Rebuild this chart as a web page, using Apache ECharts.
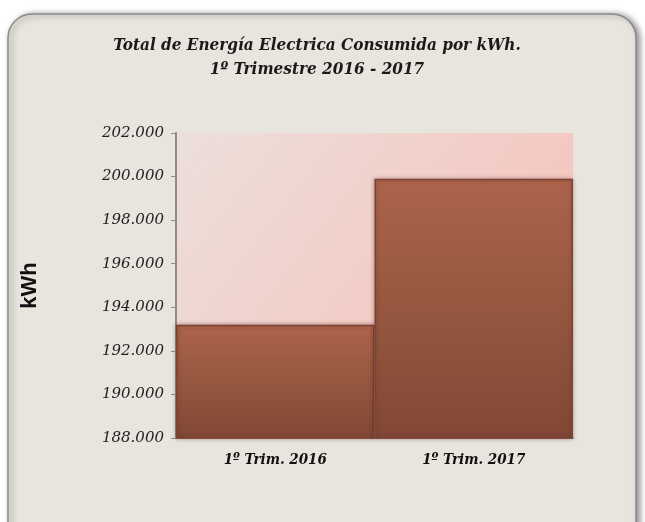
<!DOCTYPE html>
<html>
<head>
<meta charset="utf-8">
<script src="https://cdn.jsdelivr.net/npm/echarts@6/dist/echarts.min.js"></script>
<style>
  html, body { margin: 0; padding: 0; background: #ffffff; }
  #chart { width: 645px; height: 522px; }
</style>
</head>
<body>
<div id="chart"></div>
<script>
// datos
var categorias = ['1º Trim. 2016', '1º Trim. 2017'];
var consumoKwh = [193200, 199900];
var ejeMin = 188000;
var ejeMax = 202000;
var ejeIntervalo = 2000;

function miles(v) {
  // 202000 -> 202.000
  var s = String(Math.round(v));
  return s.replace(/\B(?=(\d{3})+(?!\d))/g, '.');
}

var myChart = echarts.init(document.getElementById('chart'));

var options = {
  animation: false,
  backgroundColor: '#ffffff',
  graphic: [
    {
      type: 'rect',
      z: -10,
      shape: { x: 8, y: 14, width: 628, height: 540, r: 24 },
      style: {
        fill: '#e8e4de',
        stroke: '#8a8a8a',
        lineWidth: 1.5,
        shadowBlur: 6,
        shadowOffsetX: 3,
        shadowOffsetY: 1,
        shadowColor: 'rgba(0,0,0,0.45)'
      }
    }
  ],
  title: {
    text: 'Total de Energía Electrica Consumida por kWh.\n1º Trimestre 2016 - 2017',
    left: 312,
    top: 29,
    textAlign: 'center',
    textStyle: {
      fontFamily: 'DejaVu Serif Condensed, DejaVu Serif',
      fontStyle: 'italic',
      fontWeight: 'bold',
      fontSize: 17,
      lineHeight: 24,
      color: '#1a1a1a'
    }
  },
  grid: {
    left: 176,
    right: 72,
    top: 133,
    bottom: 84,
    show: true,
    borderWidth: 0,
    backgroundColor: new echarts.graphic.LinearGradient(0, 0, 1, 1, [
      { offset: 0, color: '#ecdfdb' },
      { offset: 1, color: '#f9bcb5' }
    ])
  },
  xAxis: {
    type: 'category',
    data: categorias,
    axisLine: { lineStyle: { color: '#8c8c8c', width: 2 } },
    axisTick: { show: false },
    axisLabel: {
      margin: 15,
      fontFamily: 'DejaVu Serif Condensed, DejaVu Serif',
      fontStyle: 'italic',
      fontWeight: 'bold',
      fontSize: 15,
      color: '#111111'
    }
  },
  yAxis: {
    type: 'value',
    min: ejeMin,
    max: ejeMax,
    interval: ejeIntervalo,
    name: 'kWh',
    nameLocation: 'middle',
    nameGap: 135,
    nameRotate: 90,
    nameTextStyle: {
      fontFamily: 'Liberation Sans',
      fontWeight: 'bold',
      fontSize: 22,
      color: '#111111'
    },
    axisLine: { show: true, lineStyle: { color: '#8c8c8c', width: 2 } },
    axisTick: { show: true, inside: false, length: 5, lineStyle: { color: '#8c8c8c' } },
    splitLine: { show: false },
    axisLabel: {
      margin: 12,
      fontFamily: 'DejaVu Serif',
      fontStyle: 'oblique',
      fontWeight: 'normal',
      fontSize: 15,
      color: '#222222',
      formatter: miles
    }
  },
  series: [
    {
      type: 'bar',
      data: consumoKwh,
      barCategoryGap: '0%',
      itemStyle: {
        color: new echarts.graphic.LinearGradient(0, 0, 0, 1, [
          { offset: 0, color: '#ad634b' },
          { offset: 0.5, color: '#95573f' },
          { offset: 1, color: '#824736' }
        ]),
        borderColor: '#7a4434',
        borderWidth: 1.5,
        shadowBlur: 4,
        shadowColor: 'rgba(80,30,20,0.4)'
      }
    }
  ]
};

myChart.setOption(options);
</script>
</body>
</html>
